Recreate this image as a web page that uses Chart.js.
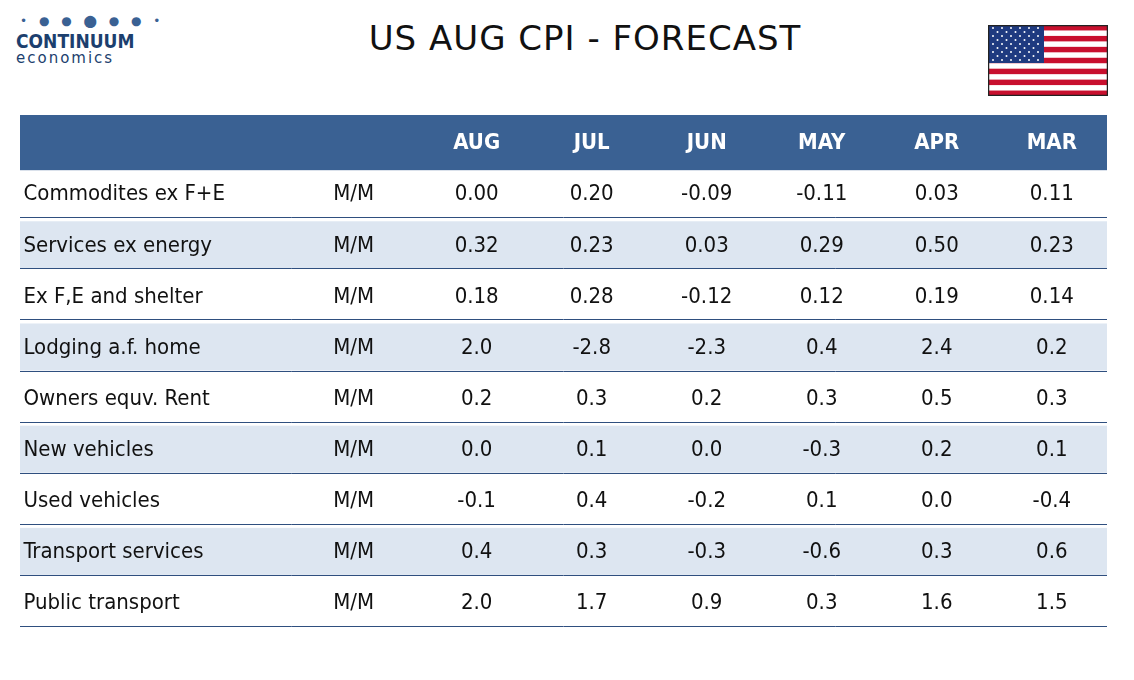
<!DOCTYPE html>
<html lang="en">
<head>
<meta charset="UTF-8">
<title>US AUG CPI - FORECAST</title>
<script src="https://cdn.jsdelivr.net/npm/chart.js"></script>
<style>
  body { margin: 0; background: #fff; font-family: "DejaVu Sans", sans-serif; }
  #wrap { position: relative; width: 1134px; height: 680px; }
  #title { position: absolute; left: 0; width: 1170px; top: 18px; text-align: center; font-size: 34px; color: #111; letter-spacing: 1px; }
  #logo { position: absolute; left: 16px; top: 14px; color: #1c3f6e; }
  #logo .dots { font-size: 12px; letter-spacing: 4px; color: #3a6193; margin-left: 4px; }
  #logo .big { font-family: "Liberation Sans Narrow", "DejaVu Sans Condensed", sans-serif; font-weight: bold; font-size: 19px; margin-top: 2px; }
  #logo .small { font-size: 15px; letter-spacing: 2px; margin-top: -3px; }
  #flag { position: absolute; left: 988px; top: 25px; }
  canvas#c { position: absolute; left: 0; top: 0; }
</style>
</head>
<body>
<div id="wrap">
  <div id="logo"><div class="dots">• ● ● ⬤ ● ● •</div><div class="big">CONTINUUM</div><div class="small">economics</div></div>
  <div id="title">US AUG CPI - FORECAST</div>
  <canvas id="flag" width="120" height="71"></canvas>
  <canvas id="c" width="1134" height="680"></canvas>
</div>
<script>
  // table content
  let months = ['AUG', 'JUL', 'JUN', 'MAY', 'APR', 'MAR'];
  let rowNames = ['Commodites ex F+E', 'Services ex energy', 'Ex F,E and shelter', 'Lodging a.f. home',
                  'Owners equv. Rent', 'New vehicles', 'Used vehicles', 'Transport services', 'Public transport'];
  let units = ['M/M', 'M/M', 'M/M', 'M/M', 'M/M', 'M/M', 'M/M', 'M/M', 'M/M'];
  let aug = ['0.00', '0.32', '0.18', '2.0', '0.2', '0.0', '-0.1', '0.4', '2.0'];
  let jul = ['0.20', '0.23', '0.28', '-2.8', '0.3', '0.1', '0.4', '0.3', '1.7'];
  let jun = ['-0.09', '0.03', '-0.12', '-2.3', '0.2', '0.0', '-0.2', '-0.3', '0.9'];
  let may = ['-0.11', '0.29', '0.12', '0.4', '0.3', '-0.3', '0.1', '-0.6', '0.3'];
  let apr = ['0.03', '0.50', '0.19', '2.4', '0.5', '0.2', '0.0', '0.3', '1.6'];
  let mar = ['0.11', '0.23', '0.14', '0.2', '0.3', '0.1', '-0.4', '0.6', '1.5'];
  let columns = [aug, jul, jun, may, apr, mar];

  // flag
  (function () {
    let f = document.getElementById('flag').getContext('2d');
    f.fillStyle = '#fff'; f.fillRect(0, 0, 120, 71);
    for (let i = 0; i < 13; i += 2) { f.fillStyle = '#c8102e'; f.fillRect(0, i * 71 / 13, 120, 71 / 13); }
    f.fillStyle = '#1f3a80'; f.fillRect(0, 0, 56, 38);
    f.fillStyle = '#fff';
    for (let r = 0; r < 9; r++) for (let k = 0; k < (r % 2 ? 5 : 6); k++) {
      f.beginPath(); f.arc(5 + k * 9 + (r % 2 ? 4.5 : 0), 3 + r * 4, 1, 0, 7); f.fill();
    }
    f.strokeStyle = '#222'; f.lineWidth = 1.5; f.strokeRect(0.5, 0.5, 119, 70);
  })();

  // x positions of the columns in column units, rows are index + 1 (0 = header)
  let xLabel = 0.03, xUnit = 2.9, xFirstMonth = 3.97;

  const tablePlugin = {
    id: 'table',
    beforeDatasetsDraw(chart) {
      let ctx = chart.ctx, x = chart.scales.x, y = chart.scales.y, a = chart.chartArea;
      ctx.save();
      // header
      ctx.fillStyle = '#3a6193';
      ctx.fillRect(a.left, y.getPixelForValue(0), a.right - a.left, y.getPixelForValue(1.08) - y.getPixelForValue(0));
      ctx.font = 'bold 22px "DejaVu Sans Condensed", "DejaVu Sans"';
      ctx.fillStyle = '#fff'; ctx.textAlign = 'center'; ctx.textBaseline = 'middle';
      months.forEach((m, j) => ctx.fillText(m, x.getPixelForValue(xFirstMonth + j), y.getPixelForValue(0.55)));
      rowNames.forEach((name, i) => {
        let top = y.getPixelForValue(i + 1.08), bot = y.getPixelForValue(i + 2), mid = (top + bot) / 2;
        if (i % 2 === 1) { ctx.fillStyle = '#dde6f1'; ctx.fillRect(a.left, top, a.right - a.left, bot - top); }
        ctx.strokeStyle = '#2f4f7f'; ctx.lineWidth = 1;
        ctx.beginPath(); ctx.moveTo(a.left, Math.round(bot) + 0.5); ctx.lineTo(a.right, Math.round(bot) + 0.5); ctx.stroke();
        ctx.fillStyle = '#111'; ctx.font = '22px "DejaVu Sans Condensed", "DejaVu Sans"';
        ctx.textAlign = 'left'; ctx.fillText(name, x.getPixelForValue(xLabel), mid + 1);
        ctx.textAlign = 'center'; ctx.fillText(units[i], x.getPixelForValue(xUnit), mid + 1);
        columns.forEach((col, j) => ctx.fillText(col[i], x.getPixelForValue(xFirstMonth + j), mid + 1));
      });
      ctx.restore();
    }
  };

  new Chart(document.getElementById('c'), {
    type: 'scatter',
    data: { datasets: [{ data: [] }] },
    options: {
      responsive: false, animation: false,
      layout: { padding: { left: 20, top: 115, right: 27, bottom: 54 } },
      plugins: { legend: { display: false }, tooltip: { enabled: false } },
      scales: {
        x: { type: 'linear', min: 0, max: 9.45, display: false },
        y: { type: 'linear', min: 0, max: 10, reverse: true, display: false }
      }
    },
    plugins: [tablePlugin]
  });
</script>
</body>
</html>
